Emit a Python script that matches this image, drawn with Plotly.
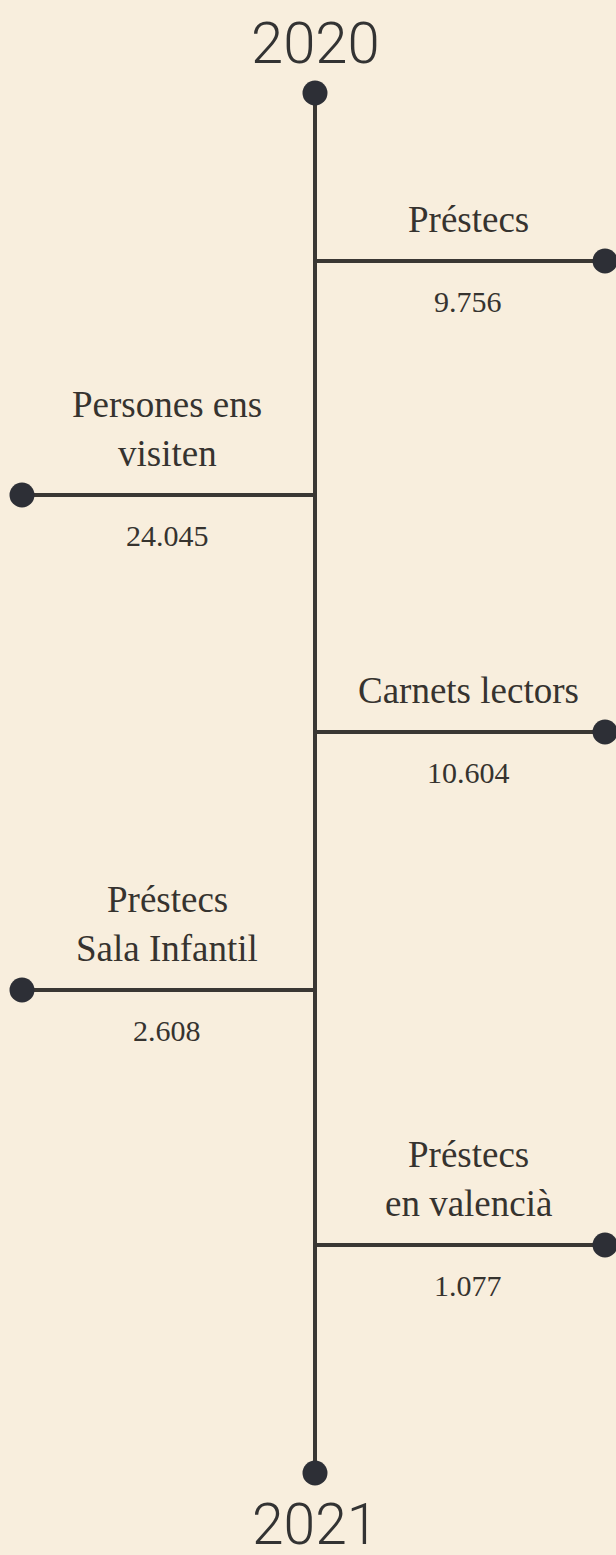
import plotly.graph_objects as go

# ---- data ----
start_year = "2020"
end_year = "2021"
categories = ["Préstecs", "Persones ens<br>visiten", "Carnets lectors",
              "Préstecs<br>Sala Infantil", "Préstecs<br>en valencià"]
values = [9756, 24045, 10604, 2608, 1077]
sides = ["right", "left", "right", "left", "right"]

# ---- layout constants ----
W, H = 616, 1555
BG = "#f8eedd"
LINE = "#3a3733"
DOT = "#2d2f36"
TEXT = "#36332f"
CX, LEFT_END, RIGHT_END = 315, 22, 605
ROW_Y = [261, 495, 732, 990, 1245]   # branch rows (px from top)
T_START, T_END = 93, 1473
SERIF = "Liberation Serif"

def fmt(v):
    return f"{v:,}".replace(",", ".")

fig = go.Figure()

# main vertical line
fig.add_trace(go.Scatter(x=[CX, CX], y=[T_START, T_END], mode="lines",
                         line=dict(color=LINE, width=4), hoverinfo="skip"))
fig.add_trace(go.Scatter(x=[CX, CX], y=[T_START, T_END], mode="markers",
                         marker=dict(color=DOT, size=25), hoverinfo="skip"))

annotations = []
for cat, val, side, yy in zip(categories, values, sides, ROW_Y):
    xe = RIGHT_END if side == "right" else LEFT_END
    fig.add_trace(go.Scatter(x=[CX, xe], y=[yy, yy], mode="lines",
                             line=dict(color=LINE, width=4), hoverinfo="skip"))
    fig.add_trace(go.Scatter(x=[xe], y=[yy], mode="markers",
                             marker=dict(color=DOT, size=25), hoverinfo="skip"))
    xt = 468 if side == "right" else 167
    lines = cat.split("<br>")
    n = len(lines)
    for i, ln in enumerate(lines):
        shift = 38 + (n - 1 - i) * 49
        annotations.append(dict(x=xt, y=yy, text=ln, showarrow=False,
                                xanchor="center", yanchor="middle", yshift=shift + 4,
                                font=dict(family=SERIF, size=37, color=TEXT)))
    annotations.append(dict(x=xt, y=yy, text=fmt(val), showarrow=False,
                            xanchor="center", yanchor="middle", yshift=-40,
                            font=dict(family=SERIF, size=30, color=TEXT)))

annotations.append(dict(x=CX, y=43, text=start_year, showarrow=False,
                        xanchor="center", yanchor="middle",
                        font=dict(family="Roboto", size=58, color="#333333", weight=300)))
annotations.append(dict(x=CX, y=1524, text=end_year, showarrow=False,
                        xanchor="center", yanchor="middle",
                        font=dict(family="Roboto", size=57, color="#333333", weight=300)))

fig.update_layout(
    width=W, height=H, margin=dict(l=0, r=0, t=0, b=0),
    paper_bgcolor=BG, plot_bgcolor=BG, showlegend=False,
    xaxis=dict(range=[0, W], visible=False, fixedrange=True),
    yaxis=dict(range=[H, 0], visible=False, fixedrange=True),
    annotations=annotations,
)

fig.write_html("out.html", config={"displayModeBar": False},
               post_script="document.body.style.margin='0';document.body.style.padding='0';document.body.style.background='" + BG + "';")
